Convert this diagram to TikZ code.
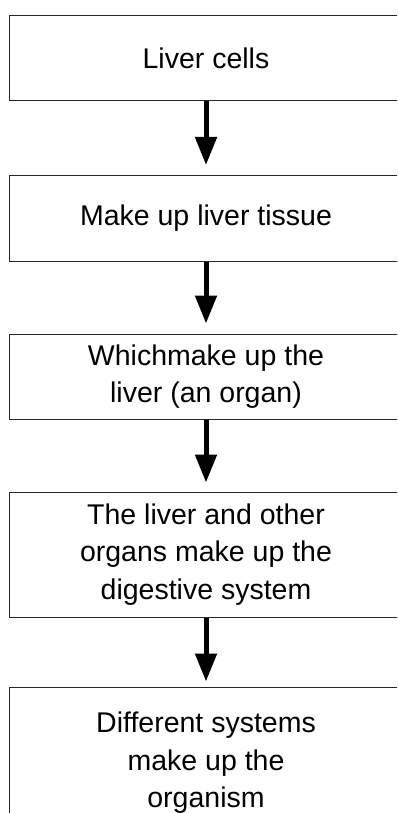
\documentclass[tikz,border=0pt]{standalone}
\usepackage{fontspec}
\setmainfont{Liberation Sans}
\usetikzlibrary{arrows.meta}
\tikzset{
  box/.style={draw=black!85, line width=1pt, rectangle, inner sep=0pt,
    minimum width=393pt, align=center,
    font=\fontsize{28.5}{37.5}\selectfont},
  flow/.style={line width=5pt, -{Triangle[width=21pt,length=28pt]}}
}
\begin{document}
\begin{tikzpicture}[x=1pt,y=-1pt]
\useasboundingbox (0,0) rectangle (397,813);
\clip (0,0) rectangle (397,813);
\node[box, minimum height=85pt] (b1) at (206,58.5) {Liver cells};
\node[box, minimum height=85pt] (b2) at (206,218.5) {Make up liver tissue};
\node[box, minimum height=85pt] (b3) at (206,376.5) {Whichmake up the\\liver (an organ)};
\node[box, minimum height=125pt] (b4) at (206,554.5) {The liver and other\\organs make up the\\digestive system};
\node[box, minimum height=152pt] (b5) at (206,763) {Different systems\\make up the\\organism};
\draw[flow] (b1.south) -- ([yshift=10.5pt]b2.north);
\draw[flow] (b2.south) -- ([yshift=10pt]b3.north);
\draw[flow] (b3.south) -- ([yshift=9pt]b4.north);
\draw[flow] (b4.south) -- ([yshift=5pt]b5.north);
\end{tikzpicture}
\end{document}
